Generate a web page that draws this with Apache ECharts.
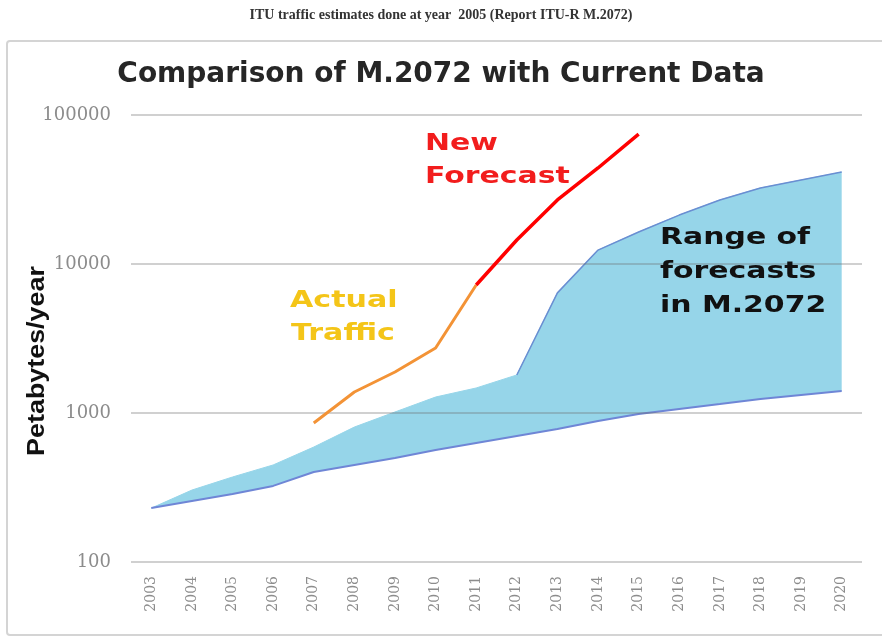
<!DOCTYPE html>
<html>
<head>
<meta charset="utf-8">
<script src="https://cdn.jsdelivr.net/npm/echarts@6/dist/echarts.min.js"></script>
<style>
    html, body { margin: 0; padding: 0; background: #ffffff; }
    #traffic { width: 882px; height: 639px; }
</style>
</head>
<body>
<div id="traffic"></div>
<script>
var years = ["2003", "2004", "2005", "2006", "2007", "2008", "2009", "2010", "2011",
    "2012", "2013", "2014", "2015", "2016", "2017", "2018", "2019", "2020"]

// range of forecasts in M.2072 (petabytes/year)
var band_low = [230, 257, 286, 324, 402, 448, 499, 565, 629, 701, 781, 884, 984, 1064, 1149, 1242, 1321, 1405]
var band_high = [230, 304, 372, 448, 591, 805, 1016, 1280, 1472, 1800, 6400, 12400, 16400, 21300, 26900, 32400, 36600, 41400]

var actual_traffic = [null, null, null, null, 857, 1383, 1884, 2730, 7230, null, null, null, null, null, null, null, null, null]
var new_forecast = [null, null, null, null, null, null, null, null, 7230, 14500, 26900, 44100, 74500, null, null, null, null, null]

var y_ticks = [100, 1000, 10000, 100000]

// band drawn as a stack: lower edge + (upper - lower)
var band_gap = band_high.map(function (v, i) { return v - band_low[i] })
// darker upper border only where the jump starts (2012 on)
var band_top_edge = band_high.map(function (v, i) { return i >= 9 ? v : null })

var traffic = document.getElementById("traffic")
var myChart_traffic = echarts.init(traffic)
var option_traffic

option_traffic = {
    animation: false,
    title: [
        {
            text: "ITU traffic estimates done at year  2005 (Report ITU-R M.2072)",
            left: "center",
            top: 6,
            padding: 0,
            textStyle: {
                fontFamily: "Liberation Serif",
                fontWeight: "bold",
                fontSize: 14,
                lineHeight: 18,
                color: "#333333"
            }
        },
        {
            text: "Comparison of M.2072 with Current Data",
            left: "center",
            top: 59,
            padding: 0,
            textStyle: {
                fontFamily: "DejaVu Sans",
                fontWeight: "bold",
                fontSize: 28,
                lineHeight: 32,
                color: "#262626"
            }
        }
    ],
    grid: {
        left: 131,
        right: 20,
        top: 115,
        bottom: 77
    },
    xAxis: {
        type: "category",
        data: years,
        boundaryGap: true,
        axisLine: { show: false },
        axisTick: { show: false },
        axisLabel: {
            rotate: 90,
            margin: 14,
            fontFamily: "DejaVu Serif",
            fontSize: 14,
            color: "#8c8c8c"
        }
    },
    yAxis: {
        type: "log",
        logBase: 10,
        min: y_ticks[0],
        max: y_ticks[y_ticks.length - 1],
        z: 3,
        axisLine: { show: false },
        axisTick: { show: false },
        axisLabel: {
            margin: 20,
            fontFamily: "DejaVu Serif",
            fontSize: 18,
            color: "#8c8c8c",
            formatter: function (v) { return String(Math.round(v)) }
        },
        splitLine: {
            show: true,
            lineStyle: {
                color: "rgba(110, 110, 110, 0.32)",
                width: 2
            }
        }
    },
    graphic: [
        {
            type: "rect",
            z: -10,
            shape: { x: 7, y: 41, width: 900, height: 594, r: 3 },
            style: { fill: "none", stroke: "#d4d4d4", lineWidth: 2 }
        },
        {
            type: "text",
            x: 37,
            y: 361,
            rotation: Math.PI / 2,
            scaleX: 1.12,
            style: {
                text: "Petabytes/year",
                font: "bold 24px 'Liberation Sans'",
                fill: "#111111",
                textAlign: "center",
                textVerticalAlign: "middle"
            }
        },
        {
            type: "text",
            x: 425,
            y: 144,
            scaleX: 1.3,
            z: 10,
            style: { text: "New", font: "bold 23px 'DejaVu Sans'", fill: "#f21d1d", textVerticalAlign: "middle" }
        },
        {
            type: "text",
            x: 425,
            y: 177,
            scaleX: 1.3,
            z: 10,
            style: { text: "Forecast", font: "bold 23px 'DejaVu Sans'", fill: "#f21d1d", textVerticalAlign: "middle" }
        },
        {
            type: "text",
            x: 290,
            y: 301,
            scaleX: 1.31,
            z: 10,
            style: { text: "Actual", font: "bold 23px 'DejaVu Sans'", fill: "#f4c518", textVerticalAlign: "middle" }
        },
        {
            type: "text",
            x: 291,
            y: 334,
            scaleX: 1.31,
            z: 10,
            style: { text: "Traffic", font: "bold 23px 'DejaVu Sans'", fill: "#f4c518", textVerticalAlign: "middle" }
        },
        {
            type: "text",
            x: 660,
            y: 238,
            scaleX: 1.3,
            z: 10,
            style: { text: "Range of", font: "bold 23px 'DejaVu Sans'", fill: "#111111", textVerticalAlign: "middle" }
        },
        {
            type: "text",
            x: 660,
            y: 272,
            scaleX: 1.3,
            z: 10,
            style: { text: "forecasts", font: "bold 23px 'DejaVu Sans'", fill: "#111111", textVerticalAlign: "middle" }
        },
        {
            type: "text",
            x: 660,
            y: 306,
            scaleX: 1.3,
            z: 10,
            style: { text: "in M.2072", font: "bold 23px 'DejaVu Sans'", fill: "#111111", textVerticalAlign: "middle" }
        }
    ],
    series: [
        {
            name: "M.2072 low",
            type: "line",
            stack: "band",
            data: band_low,
            z: 2,
            showSymbol: false,
            lineStyle: { color: "#6f86d6", width: 2 }
        },
        {
            name: "M.2072 range",
            type: "line",
            stack: "band",
            data: band_gap,
            z: 1,
            showSymbol: false,
            lineStyle: { color: "#96d5e9", width: 1 },
            areaStyle: { color: "#96d5e9", opacity: 1 }
        },
        {
            name: "M.2072 high",
            type: "line",
            data: band_top_edge,
            z: 2,
            showSymbol: false,
            lineStyle: { color: "#6a8ed2", width: 1.5 }
        },
        {
            name: "Actual Traffic",
            type: "line",
            data: actual_traffic,
            z: 5,
            showSymbol: false,
            lineStyle: { color: "#f39336", width: 3 }
        },
        {
            name: "New Forecast",
            type: "line",
            data: new_forecast,
            z: 5,
            showSymbol: false,
            lineStyle: { color: "#ff0000", width: 3.5 }
        }
    ]
}

myChart_traffic.setOption(option_traffic)
</script>
</body>
</html>
